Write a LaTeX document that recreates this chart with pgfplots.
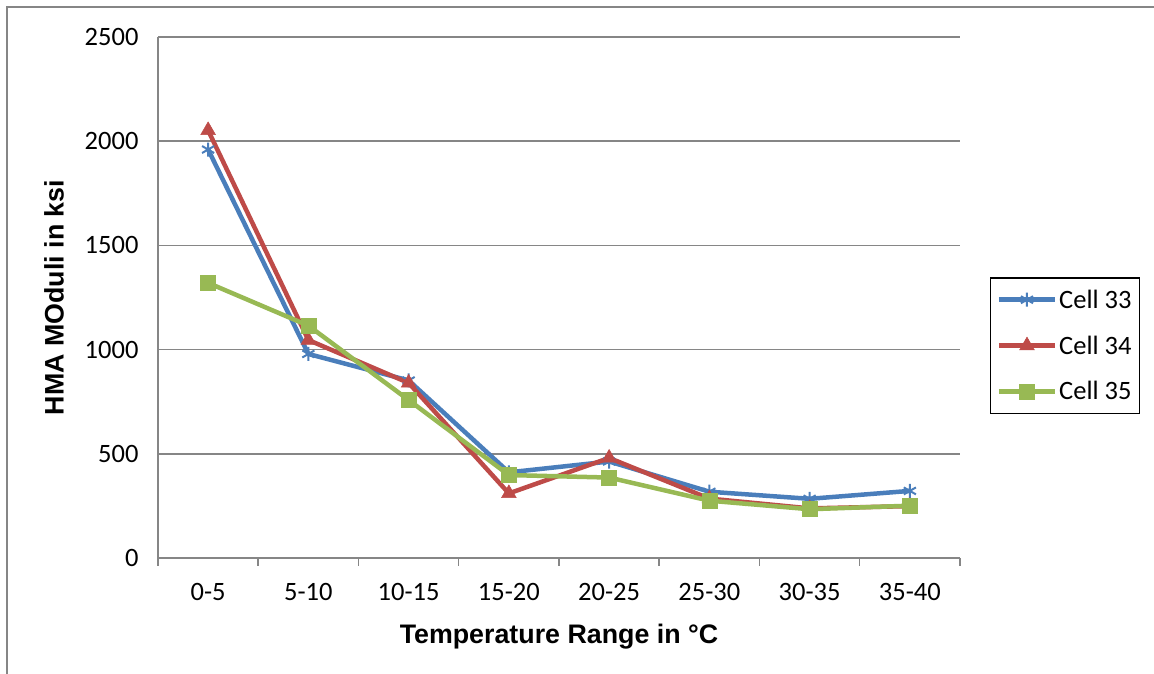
\documentclass[border=0pt]{standalone}
\usepackage{pgfplots}
\pgfplotsset{compat=1.18}
\usepackage{fontspec}
\setmainfont{Carlito}
\newfontfamily\labfont{Liberation Sans}
\definecolor{c33}{RGB}{74,126,187}
\definecolor{c34}{RGB}{190,75,72}
\definecolor{c35}{RGB}{152,185,84}
\definecolor{gridc}{RGB}{134,134,134}
\begin{document}
\begin{tikzpicture}[x=1pt,y=1pt]
\useasboundingbox (0,0) rectangle (1154,674);
\draw[gridc,line width=2pt] (7,0) -- (7,667) -- (1154,667);
\begin{axis}[
  at={(158pt,116pt)}, anchor=south west,
  scale only axis, width=802pt, height=521pt,
  xmin=-0.5, xmax=7.5, ymin=0, ymax=2500,
  axis x line*=bottom, axis y line*=left,
  axis line style={gridc,line width=1.5pt},
  xtick={0,...,7},
  xticklabels={0-5,5-10,10-15,15-20,20-25,25-30,30-35,35-40},
  minor xtick={-0.5,0.5,...,7.5},
  ytick={0,500,...,2500},
  ymajorgrids, grid style={gridc,line width=1.5pt},
  tick align=outside,
  major tick length=0pt,
  minor tick length=8pt,
  minor tick style={gridc,line width=1.5pt},
  ytick style={gridc,line width=1.5pt},
  /pgf/number format/assume math mode=true,
  /pgf/number format/1000 sep={},
  ticklabel style={font=\fontsize{26.5}{31}\selectfont},
  yticklabel style={xshift=-16pt},
  xticklabel style={yshift=-22pt},
  xlabel={\labfont\bfseries Temperature Range in °C},
  ylabel={\labfont\bfseries HMA MOduli in ksi},
  label style={font=\fontsize{26.8}{31}\selectfont},
  xlabel style={yshift=-16pt},
  ylabel style={yshift=14pt},
  legend style={at={(1.0374,0.5393)}, anchor=north west, draw=black, line width=1.5pt,
    font=\fontsize{26.5}{31}\selectfont, inner xsep=6pt, inner ysep=10pt, row sep=22pt,
    legend cell align=left},
  legend image code/.code={\draw[mark repeat=2,mark phase=2,#1] plot coordinates {(0pt,0pt) (28pt,0pt) (56pt,0pt)};},
  every axis plot/.append style={line width=4.5pt},
]
\addplot[c33, mark=asterisk, mark size=7pt, mark options={line width=2pt}] coordinates {
(0,1960) (1,979) (2,852) (3,411) (4,463) (5,318) (6,284) (7,322)};
\addlegendentry{Cell 33}
\addplot[c34, mark=triangle*, mark size=8.5pt, mark options={line width=0.5pt}] coordinates {
(0,2052) (1,1046) (2,840) (3,310) (4,480) (5,285) (6,238) (7,249)};
\addlegendentry{Cell 34}
\addplot[c35, mark=square*, mark size=7.5pt, mark options={line width=0.5pt}] coordinates {
(0,1320) (1,1115) (2,758) (3,398) (4,386) (5,275) (6,234) (7,251)};
\addlegendentry{Cell 35}
\end{axis}
\end{tikzpicture}
\end{document}
